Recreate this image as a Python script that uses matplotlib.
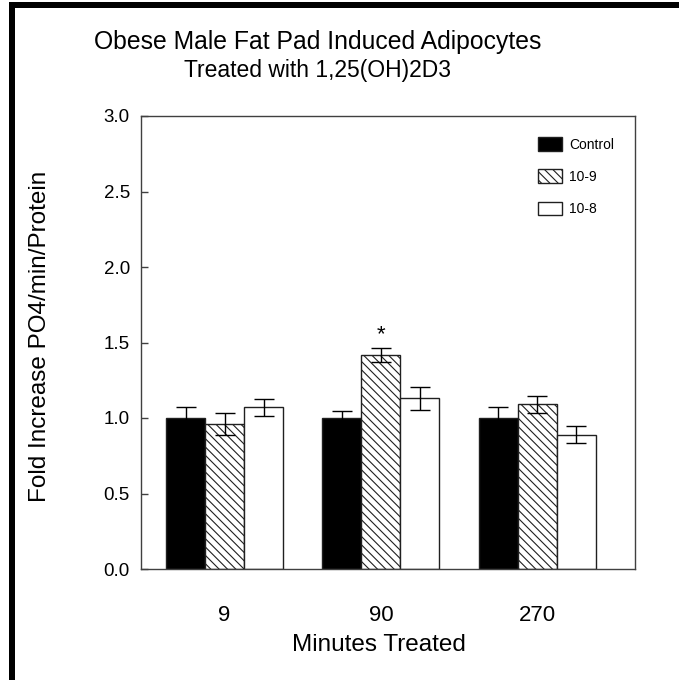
import matplotlib
matplotlib.use("Agg")
import matplotlib.pyplot as plt
import numpy as np
from matplotlib.patches import Rectangle

plt.rcParams["font.family"] = ["Liberation Sans", "DejaVu Sans"]
plt.rcParams["hatch.linewidth"] = 0.8

minutes = ["9", "90", "270"]
series = ["Control", "10-9", "10-8"]
control = [1.00, 1.00, 1.00]
control_err = [0.075, 0.045, 0.07]
dose_9 = [0.96, 1.42, 1.09]
dose_9_err = [0.07, 0.046, 0.055]
dose_8 = [1.07, 1.13, 0.89]
dose_8_err = [0.055, 0.075, 0.055]
yticks = [0.0, 0.5, 1.0, 1.5, 2.0, 2.5, 3.0]

W, H = 679, 680
fig = plt.figure(figsize=(W / 100, H / 100), dpi=100)
ax = fig.add_axes([141 / W, 1 - 569 / H, (635 - 141) / W, (569 - 116) / H])

x = np.arange(len(minutes))
width = 0.25
edge = "#202020"
styles = [
    dict(color="black", hatch=None),
    dict(color="white", hatch="\\\\\\\\"),
    dict(color="white", hatch=None),
]
values = [control, dose_9, dose_8]
errors = [control_err, dose_9_err, dose_8_err]

handles = []
for i, (vals, errs, st) in enumerate(zip(values, errors, styles)):
    pos = x + (i - 1) * width
    b = ax.bar(pos, vals, width, facecolor=st["color"], edgecolor=edge,
               hatch=st["hatch"], linewidth=1, label=series[i], zorder=2)
    ax.errorbar(pos, vals, yerr=errs, fmt="none", ecolor="black",
                elinewidth=1, capsize=7.5, capthick=1, zorder=3)
    handles.append(b)

# significance marker over the 90 min 10-9 bar
ax.text(x[1], dose_9[1] + 0.06, "*", ha="center", va="bottom", fontsize=16)

ax.set_xlim(-0.535, 2.626)
ax.set_ylim(0, 3.0)
ax.set_yticks(yticks)
ax.set_yticklabels([f"{t:.1f}" for t in yticks], fontsize=13.5)
ax.set_xticks(x)
ax.set_xticklabels(minutes, fontsize=16)
ax.tick_params(axis="x", length=0, pad=26)
ax.tick_params(axis="y", direction="in", length=5, width=1, color="#404040", pad=8)
for s in ax.spines.values():
    s.set_color("#404040")
    s.set_linewidth(1)

fig.text(379 / W, 1 - 645 / H, "Minutes Treated", ha="center", va="center", fontsize=17.5)
fig.text(40 / W, 1 - 336 / H, "Fold Increase PO4/min/Protein", rotation=90,
         ha="center", va="center", fontsize=17.5)

fig.text(318 / W, 1 - 42 / H, "Obese Male Fat Pad Induced Adipocytes",
         ha="center", va="center", fontsize=17.8)
fig.text(318 / W, 1 - 71 / H, "Treated with 1,25(OH)2D3",
         ha="center", va="center", fontsize=16.5)

ax.legend(handles=handles, loc="upper left", bbox_to_anchor=(0.804, 0.953),
          frameon=False, fontsize=10, borderpad=0, borderaxespad=0,
          handlelength=1.68, handleheight=1.12, labelspacing=1.27,
          handletextpad=0.55)

# black frame along the top and left edges
fig.patches.append(Rectangle((9 / W, 0), 6 / W, 1 - 2 / H, transform=fig.transFigure,
                             facecolor="black", edgecolor="none"))
fig.patches.append(Rectangle((9 / W, 1 - 8 / H), 1 - 9 / W, 6 / H, transform=fig.transFigure,
                             facecolor="black", edgecolor="none"))

fig.savefig("out.png", dpi=100)
